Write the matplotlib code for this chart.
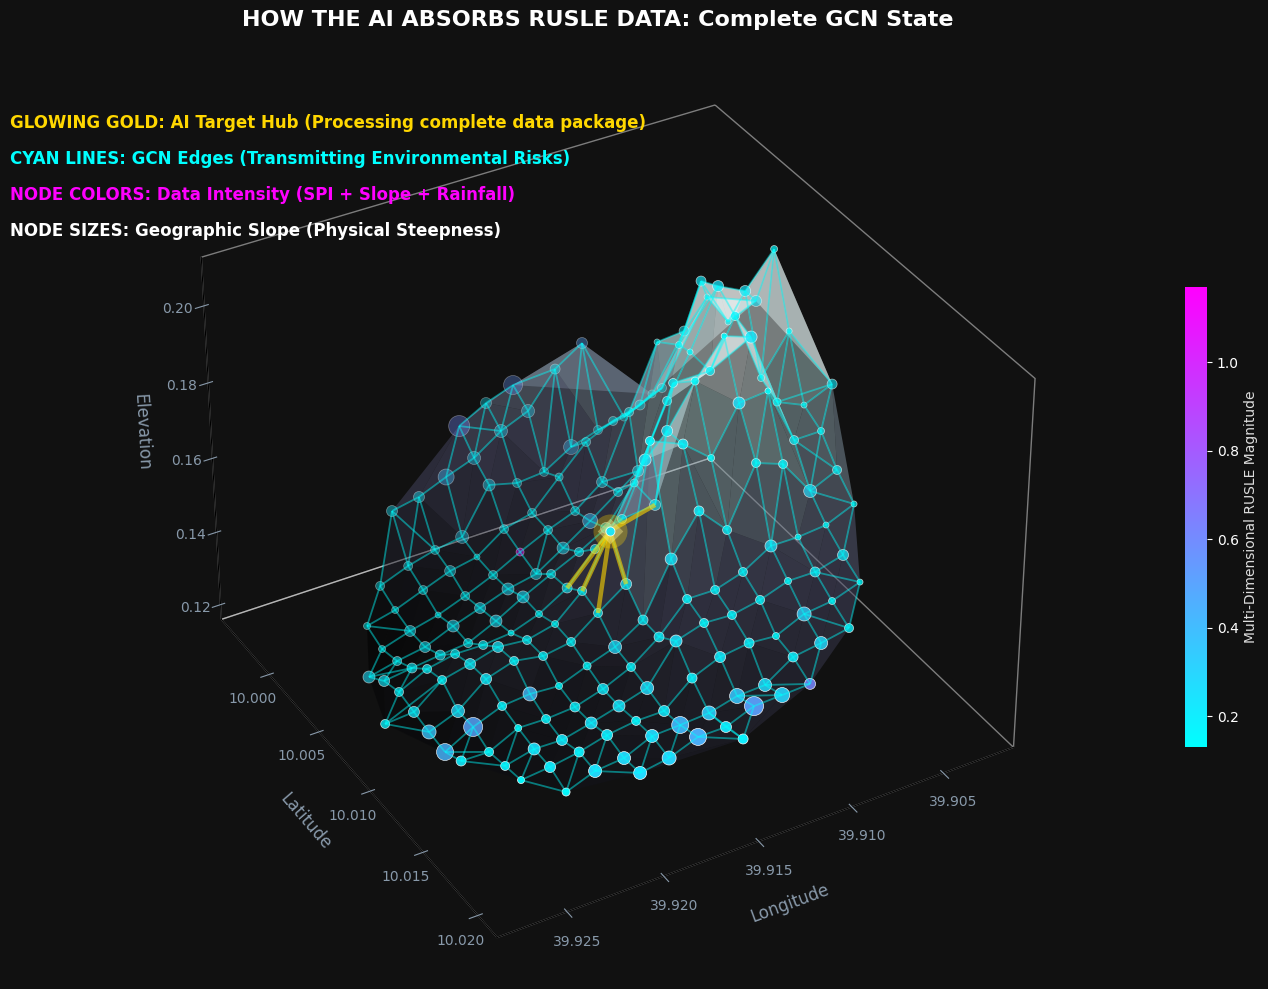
import numpy as np
import matplotlib
matplotlib.use("Agg")
import matplotlib.pyplot as plt
from matplotlib.cm import ScalarMappable
from matplotlib.colors import Normalize
from mpl_toolkits.mplot3d.art3d import Line3DCollection

# node 0 is the hub, nodes 1-5 are the ones it links to
lon = [39.91443,39.91120,39.91591,39.91594,39.91593,39.91444,39.90995,39.91146,39.91294,39.91293,39.91445,39.91445,39.91593,39.91594,39.91747,39.91897,39.92045,39.91595,39.91444,39.91272,
       39.91295,39.91144,39.91143,39.91144,39.91139,39.91141,39.91294,39.91291,39.91445,39.91598,39.91459,39.91445,39.91442,39.91439,39.91293,39.91291,39.90993,39.90995,39.90847,39.90995,
       39.90846,39.90693,39.90716,39.91013,39.90993,39.90826,39.91023,39.91265,39.91313,39.91139,39.91143,39.90970,39.90841,39.90692,39.90818,39.90841,39.90562,39.90692,39.90691,39.90544,
       39.90390,39.90689,39.90543,39.90838,39.90690,39.90390,39.90391,39.90506,39.90719,39.90525,39.90841,39.90238,39.90391,39.90389,39.90538,39.90989,39.90840,39.90718,39.90390,39.90537,
       39.90389,39.90540,39.90691,39.90841,39.90989,39.91143,39.91289,39.90537,39.90689,39.90992,39.90839,39.90538,39.90688,39.90838,39.90988,39.91140,39.91292,39.91140,39.91429,39.91592,
       39.91591,39.90688,39.90839,39.90991,39.91136,39.91290,39.91442,39.91440,39.90989,39.91292,39.91442,39.91597,39.91590,39.91591,39.91742,39.91740,39.91740,39.91890,39.91890,39.91889,
       39.91740,39.91588,39.92044,39.91890,39.91737,39.91592,39.91587,39.92042,39.91891,39.91739,39.92191,39.92040,39.91888,39.91738,39.92191,39.92039,39.91891,39.92192,39.91140,39.90987,
       39.91289,39.91139,39.91291,39.91437,39.91439,39.91438,39.92042,39.91746,39.91746,39.91744,39.91896,39.91892,39.91897,39.91895,39.91748,39.91747,39.91897,39.91595,39.92045,39.92044,
       39.92197,39.92197,39.92350,39.92196,39.92044,39.92043,39.91893,39.91891,39.91742,39.91741,39.92348,39.92195,39.92195,39.92194,39.92044,39.92044,39.92046,39.92346,39.92345,39.92342,
       39.92195,39.92042,39.92497,39.92493,39.92343,39.92192,39.92493,39.92495,39.92343,39.92190,39.92646,39.92496,39.92343,39.92191,39.92494,39.92344,39.92490,39.92341,39.92342]
lat = [10.00765,10.00634,10.00622,10.00766,10.00909,10.00913,9.99750,9.99753,9.99748,9.99603,9.99607,9.99750,9.99605,9.99749,9.99747,9.99748,9.99749,9.99894,9.99898,9.99858,
       10.00042,9.99897,10.00038,10.00188,10.00475,10.00331,10.00331,10.00185,10.00042,10.00039,10.00217,10.00334,10.00479,10.00621,10.00477,10.00619,9.99895,10.00040,9.99894,10.00188,
       10.00041,9.99898,10.00028,10.00611,10.00770,10.00632,10.00318,10.00781,10.00902,10.00767,10.00913,10.00489,10.00185,10.00184,10.00344,10.00479,10.00176,10.00329,10.00476,10.00479,
       10.00334,10.00624,10.00334,10.00768,10.00765,10.00480,10.00625,10.00571,10.00962,10.00742,10.00909,10.00768,10.00767,10.00913,10.00914,10.00911,10.01061,10.01101,10.01058,10.01059,
       10.01206,10.01204,10.01201,10.01204,10.01058,10.01058,10.01056,10.01348,10.01348,10.01205,10.01351,10.01496,10.01494,10.01491,10.01349,10.01202,10.01203,10.01350,10.01040,10.00475,
       10.00330,10.01640,10.01640,10.01494,10.01493,10.01349,10.01204,10.01350,10.01638,10.01494,10.01495,10.01357,10.01202,10.01060,10.01205,10.01058,10.00913,10.01058,10.00913,10.01201,
       10.01345,10.01492,10.01204,10.01349,10.01492,10.01639,10.01785,10.01345,10.01493,10.01636,10.01349,10.01496,10.01638,10.01783,10.01493,10.01636,10.01784,10.01638,10.01641,10.01781,
       10.01639,10.01784,10.01786,10.01637,10.01785,10.01929,10.01054,10.00333,10.00477,10.00187,10.00329,10.00474,10.00187,10.00039,10.00039,9.99894,9.99897,10.00186,10.00043,9.99896,
       9.99894,10.00041,10.00041,10.00185,10.00185,10.00330,10.00619,10.00766,10.00619,10.00767,10.00184,10.00329,10.00477,10.00622,10.00475,10.00621,10.00766,10.00330,10.00475,10.00619,
       10.00767,10.00909,10.00329,10.00474,10.00765,10.00911,10.00620,10.00766,10.00912,10.01055,10.00765,10.00911,10.01054,10.01204,10.01057,10.01202,10.01202,10.01345,10.01492]
elevation = [.1542,.1520,.1370,.1406,.1390,.1444,.1686,.1640,.1548,.1578,.1554,.1518,.1514,.1468,.1440,.1410,.1396,.1436,.1418,.1409,
             .1452,.1468,.1522,.1456,.1536,.1470,.1416,.1400,.1378,.1358,.1385,.1368,.1400,.1450,.1440,.1506,.1490,.1556,.1502,.1622,
             .1576,.1542,.1598,.1820,.1866,.1828,.1504,.1706,.1798,.1758,.1766,.1732,.1784,.1790,.1816,.1838,.1858,.1960,.1986,.1952,
             .1864,.1948,.1832,.1958,.1932,.2038,.1864,.1743,.1851,.1730,.1824,.1740,.1708,.1680,.1680,.1704,.1710,.1699,.1618,.1586,
             .1570,.1538,.1530,.1532,.1556,.1632,.1528,.1500,.1480,.1488,.1482,.1472,.1446,.1436,.1456,.1464,.1466,.1442,.1383,.1364,
             .1320,.1418,.1404,.1404,.1410,.1446,.1390,.1424,.1392,.1400,.1370,.1327,.1334,.1344,.1302,.1318,.1338,.1290,.1326,.1278,
             .1300,.1306,.1274,.1282,.1306,.1316,.1330,.1262,.1296,.1312,.1266,.1278,.1280,.1300,.1264,.1272,.1288,.1244,.1344,.1364,
             .1340,.1362,.1360,.1320,.1330,.1344,.1294,.1306,.1328,.1300,.1278,.1286,.1268,.1292,.1306,.1318,.1308,.1338,.1266,.1288,
             .1258,.1236,.1218,.1222,.1240,.1254,.1298,.1324,.1324,.1342,.1198,.1222,.1246,.1294,.1252,.1292,.1332,.1210,.1236,.1278,
             .1312,.1338,.1192,.1226,.1294,.1316,.1242,.1234,.1256,.1288,.1228,.1226,.1258,.1276,.1218,.1238,.1240,.1246,.1256]
slope = [.09,.11,.10,.09,.09,.11,.11,.10,.13,.19,.11,.13,.21,.13,.16,.11,.11,.12,.09,.09,
         .08,.15,.09,.11,.08,.09,.15,.09,.09,.09,.09,.12,.09,.09,.11,.09,.09,.09,.08,.09,
         .10,.08,.09,.09,.08,.09,.11,.12,.09,.11,.10,.09,.06,.10,.07,.06,.06,.10,.11,.11,
         .11,.09,.06,.06,.12,.07,.06,.07,.06,.08,.12,.10,.06,.07,.09,.07,.09,.09,.09,.13,
         .06,.06,.06,.12,.09,.10,.12,.11,.10,.09,.07,.06,.07,.14,.09,.09,.09,.09,.10,.09,
         .11,.09,.13,.07,.10,.09,.10,.12,.10,.11,.10,.13,.09,.13,.11,.08,.09,.07,.09,.10,
         .12,.11,.09,.12,.09,.17,.17,.11,.11,.13,.12,.10,.13,.14,.11,.13,.13,.08,.13,.11,
         .15,.15,.19,.14,.11,.10,.14,.12,.12,.09,.11,.12,.09,.11,.06,.13,.09,.08,.09,.09,
         .09,.07,.07,.11,.06,.12,.06,.09,.07,.07,.07,.11,.10,.09,.09,.09,.11,.09,.10,.09,
         .11,.09,.12,.11,.09,.11,.09,.11,.13,.09,.09,.14,.19,.07,.17,.09,.10,.09,.07]
rusle = [.18,.22,.2,.18,.18,.22,.49,.22,.28,.55,.22,.28,.6,.28,.4,.22,.22,.25,.18,.18,
         .16,.38,.18,.22,.16,.18,.36,.18,.18,.18,.18,.25,.18,.18,.22,.18,.18,.18,.16,.18,
         .2,.16,.18,.18,.16,.18,.22,.25,.18,.22,.2,.18,.14,.2,.15,.14,.14,.2,.22,.22,
         .22,.18,.14,.14,.25,.15,.14,.15,.14,.16,.25,.2,.14,.15,.18,.15,.18,.18,.18,.28,
         .14,.14,.14,.25,.18,.2,.25,.22,.2,.18,.15,.14,.15,.32,.18,.18,.18,.18,.2,.18,
         .22,.18,.28,.15,.2,.18,.2,.25,.2,.22,.2,.28,.18,.28,.22,.16,.18,.15,.18,.2,
         .25,.22,.18,.25,.18,.41,.44,.22,.22,.28,.25,.2,.28,.3,.22,.28,.28,.16,.28,.62,
         .36,.3,.51,.32,.22,.2,.4,.25,.25,.18,.22,.25,.18,.22,.14,.28,.18,1.17,.18,.18,
         .18,.15,.15,.22,.14,.25,.14,.18,.15,.15,.15,.22,.2,.18,.18,.18,.22,.18,.2,.18,
         .22,.18,.25,.22,.18,.22,.18,.22,.28,.18,.18,.36,.49,.15,.43,.18,.2,.18,.15]
hub_targets = [1, 2, 3, 4, 5]

lon_ticks = [39.925, 39.92, 39.915, 39.91, 39.905]
lat_ticks = [10.0, 10.005, 10.01, 10.015, 10.02]
elev_ticks = [.12, .14, .16, .18, .20]
cbar_ticks = [.2, .4, .6, .8, 1.0]

title = "HOW THE AI ABSORBS RUSLE DATA: Complete GCN State"
notes = ["GLOWING GOLD: AI Target Hub (Processing complete data package)",
         "CYAN LINES: GCN Edges (Transmitting Environmental Risks)",
         "NODE COLORS: Data Intensity (SPI + Slope + Rainfall)",
         "NODE SIZES: Geographic Slope (Physical Steepness)"]

lon = np.array(lon)
lat = np.array(lat)
elevation = np.array(elevation)
slope = np.array(slope)
sizes = (72 * slope) ** 2

W, H = 1268.0, 989.0
bg = "#111111"
lab = "#8899aa"

fig = plt.figure(figsize=(W / 100, H / 100), dpi=100, facecolor=bg)
ax = fig.add_subplot(projection="3d")
ax.set_position([0.1073, 0.0105, 0.7287, 0.9342])
ax.set_facecolor(bg)
ax.computed_zorder = False
ax.grid(False)
ax.view_init(elev=35, azim=60)
ax.set_box_aspect((4, 4, 3), zoom=1)
ax.set_xlim(39.90111, 39.92856)
ax.set_ylim(9.99505, 10.02171)
ax.set_zlim(0.11588, 0.21241)

for axis in (ax.xaxis, ax.yaxis, ax.zaxis):
    axis.pane.set_facecolor((0, 0, 0, 0))
    axis.pane.set_edgecolor((1, 1, 1, 0.45))
    axis.pane.set_alpha(None)
ax.tick_params(colors=lab)
ax.set_xticks(lon_ticks)
ax.set_yticks(lat_ticks)
ax.set_zticks(elev_ticks)
ax.set_xlabel("Longitude", color=lab, fontsize=12, labelpad=11)
ax.set_ylabel("Latitude", color=lab, fontsize=12, labelpad=11)
ax.set_zlabel("Elevation", color=lab, fontsize=12, labelpad=10)

ax.plot_trisurf(lon, lat, elevation, cmap="bone", alpha=0.5, linewidth=0, zorder=1)
ax.scatter(lon, lat, elevation, c=rusle, cmap="cool", vmin=.13, vmax=1.17, s=sizes,
           edgecolors="white", linewidths=0.5, zorder=2)

# GCN edges: each node to its 4 nearest neighbours on the map
pts = np.c_[lon, lat]
dist = ((pts[:, None] - pts[None]) ** 2).sum(-1)
pairs = set()
for i in range(len(pts)):
    for j in np.argsort(dist[i])[1:5]:
        pairs.add((min(i, int(j)), max(i, int(j))))
segs = [[(lon[i], lat[i], elevation[i]), (lon[j], lat[j], elevation[j])] for i, j in sorted(pairs)]
ax.add_collection3d(Line3DCollection(segs, colors="cyan", alpha=0.45, linewidths=1.3, zorder=3))

hub_segs = [[(lon[0], lat[0], elevation[0]), (lon[j], lat[j], elevation[j])] for j in hub_targets]
ax.add_collection3d(Line3DCollection(hub_segs, colors="gold", alpha=0.6, linewidths=3.2, zorder=4))
ax.scatter(lon[:1], lat[:1], elevation[:1], c="gold", s=600, alpha=.3, linewidths=0, depthshade=False, zorder=5)
ax.scatter(lon[:1], lat[:1], elevation[:1], c="khaki", marker="D", s=170, alpha=.45, linewidths=0, depthshade=False, zorder=5)
ax.scatter(lon[:1], lat[:1], elevation[:1], c="#22e4f4", s=sizes[:1], edgecolors="white", linewidths=0.5, depthshade=False, zorder=6)

fig.text(598 / W, 1 - 20 / H, title, color="white", fontsize=16, fontweight="bold", ha="center", va="center")
for y, note, color in zip([123, 159, 195, 231], notes, ["gold", "cyan", "magenta", "white"]):
    fig.text(10 / W, 1 - y / H, note, color=color, fontsize=12, fontweight="bold", va="center")

cax = fig.add_axes([1185 / W, 1 - 747 / H, 22 / W, 460 / H])
cb = fig.colorbar(ScalarMappable(Normalize(.13, 1.17), "cool"), cax=cax, ticks=cbar_ticks)
cb.outline.set_visible(False)
cb.ax.tick_params(colors="white", labelsize=10)
cb.set_label("Multi-Dimensional RUSLE Magnitude", color="#dddddd", fontsize=10)

fig.savefig("out.png", dpi=100, facecolor=bg)
